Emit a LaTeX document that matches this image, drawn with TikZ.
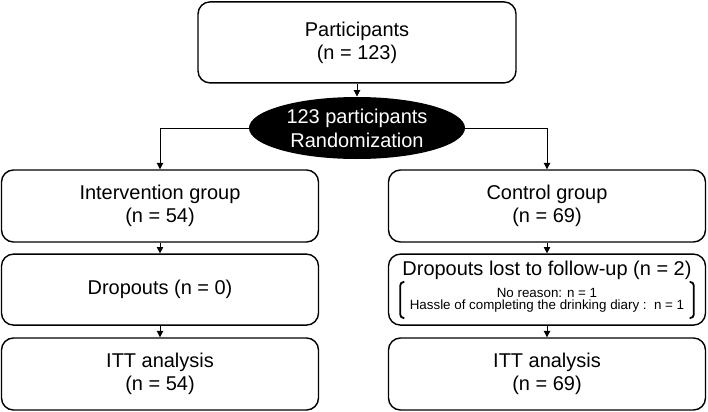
\documentclass[tikz,border=0pt]{standalone}
\usepackage{fontspec}
\setmainfont{Liberation Sans}
\usetikzlibrary{shapes.geometric, arrows.meta, positioning}
\tikzstyle{stage}=[draw, rounded corners=0.3cm, line width=1pt, inner sep=0pt, align=center, font=\fontsize{14.2}{16.4}\selectfont]
\tikzstyle{hub}=[ellipse, fill=black, text=white, inner sep=0pt, align=center, font=\fontsize{14.2}{17}\selectfont]
\tikzstyle{note}=[inner xsep=6.5pt, inner ysep=0pt, minimum height=0.875cm, align=center, font=\fontsize{9.5}{8.6}\selectfont]
\tikzstyle{brace}=[line width=1.3pt, rounded corners=2.5pt]
\begin{document}
\begin{tikzpicture}[line width=0.7pt, >={Triangle[length=4.5pt,width=4.5pt]}]
\useasboundingbox (0,0) rectangle (17.7,-10.275);
\node [stage, minimum width=7.95cm, minimum height=2.025cm] (part) at (8.925,-1.06) {Participants\\(n = 123)};
\node [hub, minimum width=5.4cm, minimum height=1.55cm] (rand) at (8.925,-3.2) {123 participants\\Randomization};
\node [stage, minimum width=7.925cm, minimum height=1.8cm] (int) at (4,-5.15) {Intervention group\\(n = 54)};
\node [stage, minimum width=7.925cm, minimum height=1.8cm] (ctl) at (13.675,-5.15) {Control group\\(n = 69)};
\node [stage, minimum width=7.925cm, minimum height=1.775cm] (intdrop) at (4,-7.24) {Dropouts (n = 0)};
\node [stage, minimum width=7.925cm, minimum height=1.775cm] (ctldrop) at (13.675,-7.24) {};
\node [stage, draw=none, anchor=base] (ctltitle) at (13.675,-6.875) {Dropouts lost to follow-up (n = 2)};
\node [note] (why) at (13.675,-7.5) {No reason: n = 1\\Hassle of completing the drinking diary :\ \ n = 1};
\node [stage, minimum width=7.925cm, minimum height=1.8cm] (intitt) at (4,-9.35) {ITT analysis\\(n = 54)};
\node [stage, minimum width=7.925cm, minimum height=1.8cm] (ctlitt) at (13.675,-9.35) {ITT analysis\\(n = 69)};
\draw [brace] ([xshift=3pt]why.north west) -- (why.north west) -- (why.south west) -- ([xshift=3pt]why.south west);
\draw [brace] ([xshift=-3pt]why.north east) -- (why.north east) -- (why.south east) -- ([xshift=-3pt]why.south east);
\draw [->] (part) -- (rand);
\draw [->] (rand.west) -| (int.north);
\draw [->] (rand.east) -| (ctl.north);
\draw [->] (int) -- (intdrop);
\draw [->] (intdrop) -- (intitt);
\draw [->] (ctl) -- (ctldrop);
\draw [->] (ctldrop) -- (ctlitt);
\end{tikzpicture}
\end{document}
